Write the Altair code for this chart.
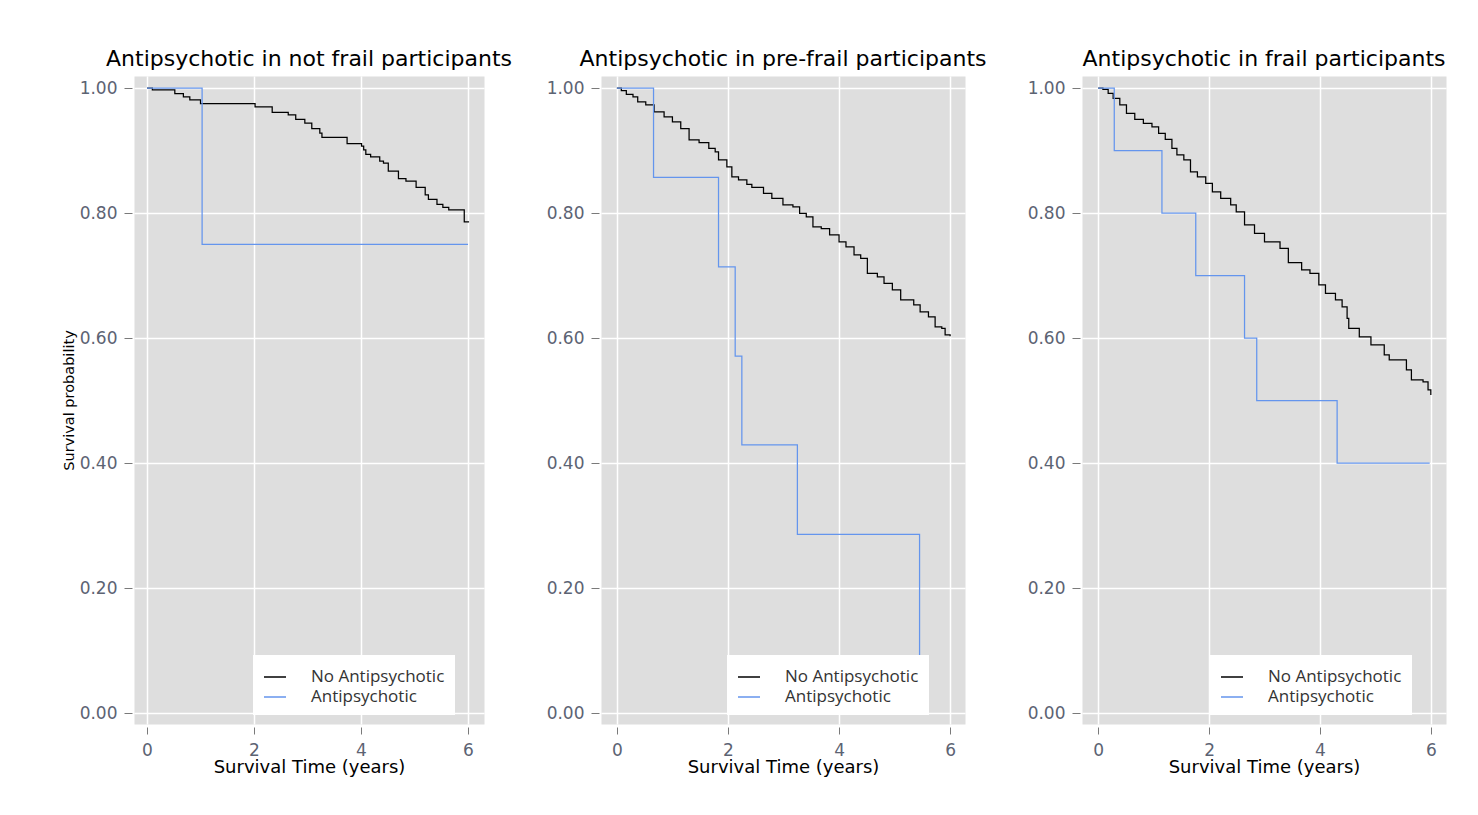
import altair as alt
import pandas as pd

# ---------------- data ----------------
groups = ["No Antipsychotic", "Antipsychotic"]
colors = ["#000000", "#6495ED"]

titles = [
    "Antipsychotic in not frail participants",
    "Antipsychotic in pre-frail participants",
    "Antipsychotic in frail participants",
]

# Panel 1: not frail
p1_no_t = [0, 0.10, 0.52, 0.68, 0.80, 1.00, 2.02, 2.34, 2.64, 2.78, 2.95, 3.08, 3.23, 3.27,
           3.74, 4.01, 4.05, 4.09, 4.18, 4.35, 4.42, 4.51, 4.70, 4.84, 5.03, 5.20, 5.26,
           5.42, 5.53, 5.64, 5.93, 6.02]
p1_no_s = [1.000, 0.997, 0.991, 0.986, 0.981, 0.975, 0.970, 0.961, 0.957, 0.950, 0.944, 0.935,
           0.928, 0.921, 0.911, 0.907, 0.901, 0.894, 0.890, 0.883, 0.880, 0.867, 0.855, 0.851,
           0.841, 0.829, 0.822, 0.814, 0.809, 0.805, 0.786, 0.786]
p1_ap_t = [0, 1.03, 6.0]
p1_ap_s = [1.0, 0.75, 0.75]

# Panel 2: pre-frail
p2_no_t = [0, 0.08, 0.17, 0.29, 0.375, 0.52, 0.67, 0.85, 1.00, 1.15, 1.30, 1.48, 1.655, 1.77,
           1.83, 1.98, 2.07, 2.19, 2.34, 2.43, 2.64, 2.79, 2.99, 3.17, 3.29, 3.41, 3.53, 3.68,
           3.83, 4.00, 4.125, 4.27, 4.39, 4.51, 4.69, 4.81, 4.96, 5.11, 5.345, 5.46, 5.61,
           5.73, 5.85, 5.91, 6.00]
p2_no_s = [1.000, 0.996, 0.990, 0.986, 0.978, 0.973, 0.962, 0.954, 0.946, 0.935, 0.917, 0.9125,
           0.9035, 0.898, 0.885, 0.874, 0.858, 0.853, 0.846, 0.841, 0.8315, 0.8235, 0.813,
           0.810, 0.7995, 0.794, 0.778, 0.775, 0.765, 0.754, 0.746, 0.733, 0.7275, 0.7035,
           0.698, 0.6875, 0.677, 0.661, 0.653, 0.642, 0.634, 0.618, 0.6155, 0.605, 0.603]
p2_ap_t = [0, 0.66, 1.83, 2.13, 2.25, 3.25, 5.45]
p2_ap_s = [1.0, 0.857, 0.714, 0.571, 0.429, 0.286, 0.0]

# Panel 3: frail
p3_no_t = [0, 0.085, 0.18, 0.27, 0.39, 0.51, 0.66, 0.815, 0.97, 1.09, 1.21, 1.33, 1.42, 1.545,
           1.665, 1.79, 1.94, 2.06, 2.21, 2.39, 2.49, 2.64, 2.82, 3.00, 3.28, 3.43, 3.67, 3.82,
           3.98, 4.10, 4.28, 4.40, 4.49, 4.52, 4.71, 4.92, 5.16, 5.25, 5.56, 5.65, 5.86, 5.95,
           6.00]
p3_no_s = [1.000, 0.998, 0.9915, 0.9835, 0.973, 0.9595, 0.950, 0.9435, 0.938, 0.9275, 0.918,
           0.9035, 0.893, 0.885, 0.866, 0.858, 0.8475, 0.834, 0.8235, 0.813, 0.802, 0.781,
           0.7675, 0.754, 0.7435, 0.7205, 0.709, 0.7035, 0.685, 0.6715, 0.661, 0.650, 0.6315,
           0.6155, 0.602, 0.589, 0.573, 0.565, 0.549, 0.533, 0.530, 0.517, 0.509]
p3_ap_t = [0, 0.29, 1.15, 1.76, 2.64, 2.86, 4.31, 5.98]
p3_ap_s = [1.0, 0.9, 0.8, 0.7, 0.6, 0.5, 0.4, 0.4]

y_ticks = [0, 0.2, 0.4, 0.6, 0.8, 1.0]
x_ticks = [0, 2, 4, 6]

panels = [
    (p1_no_t, p1_no_s, p1_ap_t, p1_ap_s),
    (p2_no_t, p2_no_s, p2_ap_t, p2_ap_s),
    (p3_no_t, p3_no_s, p3_ap_t, p3_ap_s),
]

# ---------------- layout ----------------
widths = [350, 364, 364]
height = 648
x_domains = [[-0.243, 6.299], [-0.286, 6.268], [-0.292, 6.274]]
y_domain = [-0.0176, 1.0192]
legend_x = [119, 126, 128]

FONT = "DejaVu Sans"


def make_panel(i):
    no_t, no_s, ap_t, ap_s = panels[i]
    df = pd.concat([
        pd.DataFrame({"t": no_t, "s": no_s, "group": groups[0]}),
        pd.DataFrame({"t": ap_t, "s": ap_s, "group": groups[1]}),
    ])
    if i == 0:
        y_axis = alt.Axis(values=y_ticks, format=".2f", title="Survival probability",
                          titleX=-63, titleY=324, titleAngle=270, titleFontSize=14.5,
                          titleAlign="center", titleBaseline="middle",
                          tickSize=8, offset=2, labelPadding=7)
    else:
        y_axis = alt.Axis(values=y_ticks, format=".2f", title=None,
                          tickSize=8, offset=2, labelPadding=7)
    x_axis = alt.Axis(values=x_ticks, format="d", title="Survival Time (years)",
                      titleFontSize=18, titlePadding=0, tickSize=7, offset=3,
                      labelPadding=8)
    return (
        alt.Chart(df)
        .mark_line(interpolate="step-after", strokeWidth=1.25)
        .encode(
            x=alt.X("t:Q", scale=alt.Scale(domain=x_domains[i], nice=False, zero=False),
                    axis=x_axis),
            y=alt.Y("s:Q", scale=alt.Scale(domain=y_domain, nice=False, zero=False),
                    axis=y_axis),
            color=alt.Color(
                "group:N",
                scale=alt.Scale(domain=groups, range=colors),
                legend=alt.Legend(
                    title=None, orient="none", legendX=legend_x[i], legendY=579,
                    fillColor="white", padding=10, symbolType="stroke",
                    symbolSize=484, symbolStrokeWidth=1.5, labelFont="Open Sans",
                    labelFontSize=17, labelColor="#333333", labelOffset=24,
                    rowPadding=0,
                ),
            ),
        )
        .properties(
            width=widths[i],
            height=height,
            title=alt.TitleParams(titles[i], font=FONT, fontSize=22, fontWeight="normal",
                                  color="#000000", offset=5, anchor="middle"),
        )
    )


chart = (
    alt.hconcat(*[make_panel(i) for i in range(3)], spacing=117, bounds="flush")
    .resolve_scale(x="independent", color="independent")
    .resolve_legend(color="independent")
    .properties(padding={"left": 60, "top": 47, "right": 5, "bottom": 5},
                background="white")
    .configure_view(fill="#dedede", stroke="transparent")
    .configure_axis(
        grid=True, gridColor="#ffffff", gridWidth=1.5, domain=False,
        tickColor="#7a7a7a", tickWidth=1,
        labelFont=FONT, labelFontSize=17, labelColor="#5c6373",
        titleFont=FONT, titleColor="#000000", titleFontWeight="normal",
    )
)

chart.save("out.html", embed_options={"renderer": "svg", "actions": False})
